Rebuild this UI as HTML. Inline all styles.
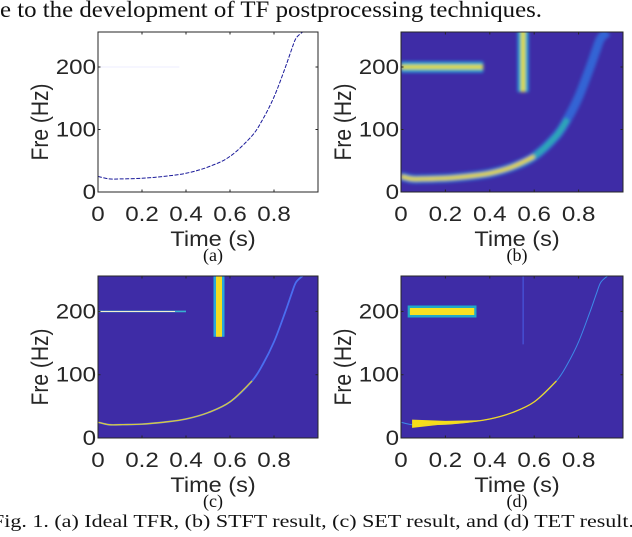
<!DOCTYPE html>
<html><head><meta charset="utf-8"><style>
body{margin:0;background:#fff;width:632px;height:532px;overflow:hidden}
svg text{font-family:"Liberation Sans",sans-serif}
.serif{font-family:"Liberation Serif",serif}
</style></head><body>
<svg id="fig" width="632" height="532" viewBox="0 0 632 532" xmlns="http://www.w3.org/2000/svg">
<defs>
<filter id="blur" x="-20%" y="-20%" width="140%" height="140%"><feGaussianBlur stdDeviation="1.6"/></filter>
</defs>
<text class="serif" x="0" y="17" font-size="23" fill="#111" textLength="542" lengthAdjust="spacingAndGlyphs">e to the development of TF postprocessing techniques.</text>
<text class="serif" x="-8" y="527" font-size="18" fill="#111" textLength="642" lengthAdjust="spacingAndGlyphs">Fig. 1.  (a) Ideal TFR, (b) STFT result, (c) SET result, and (d) TET result.</text>
</svg>
<script>
// data
const chirpT = [0, 0.05, 0.1, 0.2, 0.3, 0.4, 0.5, 0.6, 0.7, 0.75, 0.8, 0.85, 0.88, 0.9, 0.93];
const chirpF = [25, 21, 21, 22, 25, 30, 40, 57, 90, 117, 152, 198, 228, 246, 256];
const toneF = [200];
const toneT = [0, 0.37];
const impulseT = [0.55];
const impulseF = [160, 256];
const xTicks = [0, 0.2, 0.4, 0.6, 0.8];
const xTickLabels = ["0", "0.2", "0.4", "0.6", "0.8"];
const yTicks = [0, 100, 200];
const yTickLabels = ["0", "100", "200"];

const NS = "http://www.w3.org/2000/svg";
const svg = document.getElementById('fig');
function mk(tag, attrs, parent){const e=document.createElementNS(NS,tag);for(const k in attrs)e.setAttribute(k,attrs[k]);(parent||svg).appendChild(e);return e;}

const panels = [
 {id:'a', x:98, y:32, w:220, h:160, bg:'#fff'},
 {id:'b', x:401, y:32, w:222, h:160, bg:'#3e2ca6'},
 {id:'c', x:98, y:276, w:220, h:162, bg:'#3e2ca6'},
 {id:'d', x:401, y:276, w:222, h:162, bg:'#3e2ca6'}
];

// smooth path through points (Catmull-Rom)
function path(p, ts, fs){
  const P=ts.map((t,i)=>[p.x+t*p.w, p.y+p.h-fs[i]/256*p.h]);
  let d='M'+P[0][0].toFixed(1)+','+P[0][1].toFixed(1);
  for(let i=0;i<P.length-1;i++){
    const p0=P[Math.max(0,i-1)],p1=P[i],p2=P[i+1],p3=P[Math.min(P.length-1,i+2)];
    const c1=[p1[0]+(p2[0]-p0[0])/6,p1[1]+(p2[1]-p0[1])/6];
    const c2=[p2[0]-(p3[0]-p1[0])/6,p2[1]-(p3[1]-p1[1])/6];
    d+=` C${c1[0].toFixed(1)},${c1[1].toFixed(1)} ${c2[0].toFixed(1)},${c2[1].toFixed(1)} ${p2[0].toFixed(1)},${p2[1].toFixed(1)}`;
  }
  return d;
}
function pts(p, ts, fs){return ts.map((t,i)=>(p.x+t*p.w).toFixed(1)+','+(p.y+p.h-fs[i]/256*p.h).toFixed(1)).join(' ');}
function stext(parent,x,y,str,anchor,size,sc){
  const gg=mk('g',{transform:`translate(${x},${y}) scale(${sc},1)`},parent);
  const t=mk('text',{x:0,y:0,'font-size':size,'text-anchor':anchor,fill:'#262626'},gg);
  t.textContent=str;return t;
}

panels.forEach(p=>{
  const g = mk('g',{});
  
  
  const sx=t=>p.x+t*p.w, sy=f=>p.y+p.h-f/256*p.h;
  const bg=mk('rect',{x:p.x,y:p.y,width:p.w,height:p.h,fill:p.bg},g);
  
  
  const cp = 'clip'+p.id;
  const c=mk('clipPath',{id:cp},g); mk('rect',{x:p.x,y:p.y,width:p.w,height:p.h},c);
  const m=mk('g',{'clip-path':'url(#'+cp+')'},g);
  const chirp = path(p, chirpT, chirpF);
  const lowN = 9;
  const chirpLow = path(p, chirpT.slice(0,lowN), chirpF.slice(0,lowN));
  if(p.id==='a'){
    const l=mk('path',{d:chirp,fill:'none',stroke:'#1a1a9a','stroke-width':1,'stroke-dasharray':'4 1.5'},m);
    
    
    const tn=mk('line',{x1:sx(toneT[0]),x2:sx(toneT[1]),y1:sy(toneF[0]),y2:sy(toneF[0]),stroke:'#eef',"stroke-width":1},m);
    
    
  } else if(p.id==='b'){
    const gb=mk('g',{filter:'url(#blur)'},m);
    
    
    [[11,'#2a9be0'],[7,'#2dbfa8'],[3.5,'#f2dc28']].forEach(([w,col])=>{
      mk('line',{x1:sx(toneT[0]),x2:sx(toneT[1]),y1:sy(toneF[0]),y2:sy(toneF[0]),stroke:col,'stroke-width':w},gb);
      mk('line',{x1:sx(impulseT[0]),x2:sx(impulseT[0]),y1:sy(impulseF[0]),y2:sy(impulseF[1])-5,stroke:col,'stroke-width':w},gb);
    });
    mk('path',{d:chirp,fill:'none',stroke:'#2f7ce8','stroke-width':9,'stroke-opacity':0.7},gb);
    mk('path',{d:path(p,chirpT.slice(0,10),chirpF.slice(0,10)),fill:'none',stroke:'#2cb7b0','stroke-width':6,'stroke-opacity':0.8},gb);
    mk('path',{d:path(p,chirpT.slice(0,8),chirpF.slice(0,8)),fill:'none',stroke:'#f0d830','stroke-width':3.5},gb);
  } else if(p.id==='c'){
    const gc=mk('g',{},m);
    
    
    mk('line',{x1:sx(impulseT[0]),x2:sx(impulseT[0]),y1:sy(impulseF[0]),y2:sy(impulseF[1]),stroke:'#2aa8d8','stroke-width':11},gc);
    mk('line',{x1:sx(impulseT[0]),x2:sx(impulseT[0]),y1:sy(impulseF[0]),y2:sy(impulseF[1]),stroke:'#f5dc20','stroke-width':6},gc);
    mk('line',{x1:sx(toneT[0]),x2:sx(toneT[1]+0.03),y1:sy(toneF[0]),y2:sy(toneF[0]),stroke:'#38b0d0','stroke-width':1.6},gc);
    mk('line',{x1:sx(toneT[0]),x2:sx(toneT[1]-0.02),y1:sy(toneF[0]),y2:sy(toneF[0]),stroke:'#f0f0d0','stroke-width':1},gc);
    mk('path',{d:chirp,fill:'none',stroke:'#4a6ef0','stroke-width':1.8},gc);
    mk('path',{d:chirpLow,fill:'none',stroke:'#d8c840','stroke-width':1.3},gc);
  } else {
    const gd=mk('g',{},m);
    
    
    mk('line',{x1:sx(toneT[0]+0.03),x2:sx(toneT[1]-0.03),y1:sy(toneF[0]),y2:sy(toneF[0]),stroke:'#20a8c8','stroke-width':12},gd);
    mk('line',{x1:sx(toneT[0]+0.04),x2:sx(toneT[1]-0.04),y1:sy(toneF[0]),y2:sy(toneF[0]),stroke:'#f8e020','stroke-width':7},gd);
    mk('line',{x1:sx(impulseT[0]),x2:sx(impulseT[0]),y1:sy(impulseF[0]-12),y2:sy(impulseF[1]),stroke:'#4a60e8','stroke-width':1},gd);
    mk('path',{d:chirp,fill:'none',stroke:'#3d8be8','stroke-width':1},gd);
    mk('polygon',{points:pts(p,[0.05,0.2,0.35,0.35,0.2,0.05],[29,27,28,26,22,16]),fill:'#f6de1a'},gd);
    mk('path',{d:path(p,chirpT.slice(2,lowN),chirpF.slice(2,lowN)),fill:'none',stroke:'#f0d828','stroke-width':1.3},gd);
  }
  const fr=mk('rect',{x:p.x,y:p.y,width:p.w,height:p.h,fill:'none',stroke:'#262626','stroke-width':1},g);
  
  
  xTicks.forEach((t,i)=>{
    mk('line',{x1:sx(t),x2:sx(t),y1:p.y+p.h,y2:p.y+p.h-2.5,stroke:'#262626'},g);
    mk('line',{x1:sx(t),x2:sx(t),y1:p.y,y2:p.y+2.5,stroke:'#262626'},g);
    const tx=stext(g,sx(t),p.y+p.h+29,xTickLabels[i],'middle',21,1.15);
    
    
  });
  yTicks.forEach((f,i)=>{
    mk('line',{x1:p.x,x2:p.x+2.5,y1:sy(f),y2:sy(f),stroke:'#262626'},g);
    mk('line',{x1:p.x+p.w,x2:p.x+p.w-2.5,y1:sy(f),y2:sy(f),stroke:'#262626'},g);
    const ty=stext(g,p.x-2,sy(f)+7,yTickLabels[i],'end',21,1.15);
    
    
  });
  const yt=mk('text',{x:0,y:0,'font-size':21,'text-anchor':'middle',fill:'#262626',transform:`translate(${p.x-50},${p.y+p.h/2+10}) scale(1.15,1) rotate(-90)`},g);
  yt.textContent='Fre (Hz)';
  
  
  const xt=stext(g,p.x+p.w/2+5,p.y+p.h+54,'Time (s)','middle',21,1.12);
  
  
  const cap=mk('text',{x:p.x+p.w/2+5,y:p.y+p.h+69,'font-size':18,'text-anchor':'middle',fill:'#111','class':'serif'},g);
  cap.textContent='('+p.id+')';
  
  
});
</script>
</body></html>
